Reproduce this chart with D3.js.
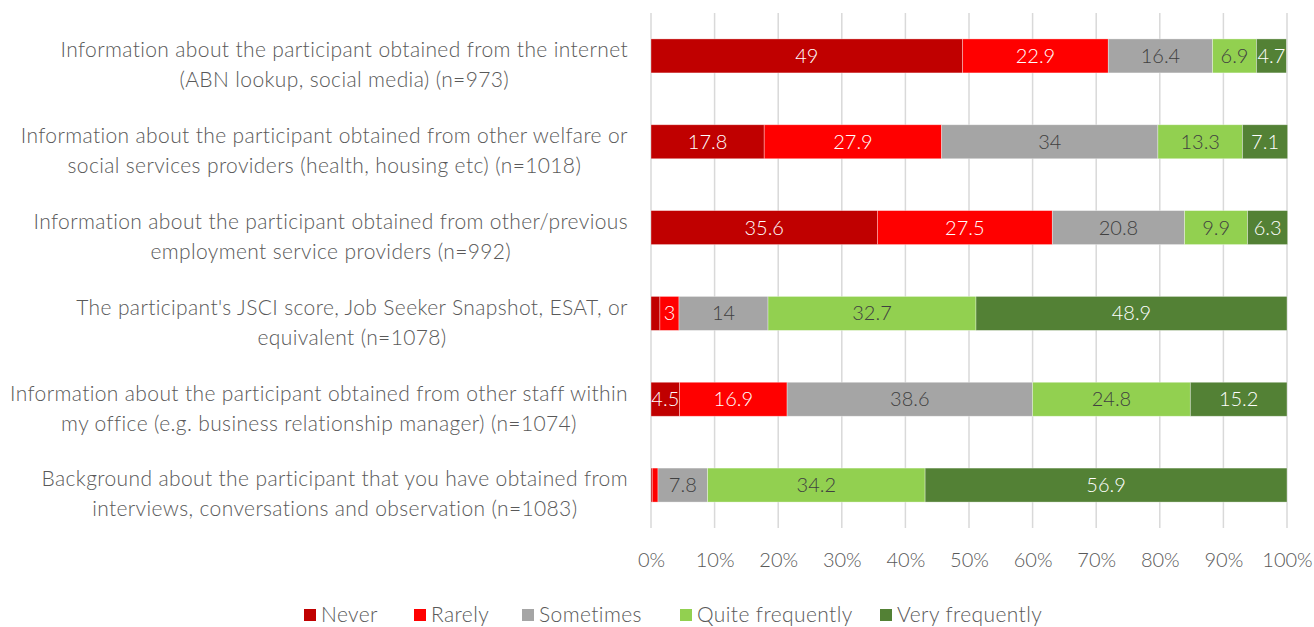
<!DOCTYPE html>
<html>
<head>
<meta charset="utf-8">
<script src="https://cdn.jsdelivr.net/npm/d3@7"></script>
<style>
  html, body { margin: 0; padding: 0; background: #fff; }
  svg { display: block; font-family: Lato, "Open Sans", sans-serif; font-weight: 300; }
</style>
</head>
<body>
<svg id="chart" width="1314" height="627"></svg>
<script>
// Survey items, top to bottom; each entry holds the wrapped lines of the label
const categories = [
  ["Information about the participant obtained from the internet", "(ABN lookup, social media) (n=973)"],
  ["Information about the participant obtained from other welfare or", "social services providers (health, housing etc) (n=1018)"],
  ["Information about the participant obtained from other/previous", "employment service providers (n=992)"],
  ["The participant's JSCI score, Job Seeker Snapshot, ESAT, or", "equivalent (n=1078)"],
  ["Information about the participant obtained from other staff within", "my office (e.g. business relationship manager) (n=1074)"],
  ["Background about the participant that you have obtained from", "interviews, conversations and observation (n=1083)"]
];

const seriesNames = ["Never", "Rarely", "Sometimes", "Quite frequently", "Very frequently"];

// Percentages per response option, in category order
const never      = [49,   17.8, 35.6, 1.4,  4.5,  0.2];
const rarely     = [22.9, 27.9, 27.5, 3,    16.9, 0.9];
const sometimes  = [16.4, 34,   20.8, 14,   38.6, 7.8];
const quiteFreq  = [6.9,  13.3, 9.9,  32.7, 24.8, 34.2];
const veryFreq   = [4.7,  7.1,  6.3,  48.9, 15.2, 56.9];

const tickValues = [0, 10, 20, 30, 40, 50, 60, 70, 80, 90, 100];

const colors = ["#C00000", "#FF0000", "#A5A5A5", "#92D050", "#538135"];
const labelColors = ["#ffffff", "#ffffff", "#404040", "#404040", "#ffffff"];
const textColor = "#595959";

const seriesValues = [never, rarely, sometimes, quiteFreq, veryFreq];
const rows = categories.map((c, i) => {
  const r = { id: i };
  seriesNames.forEach((s, k) => { r[s] = seriesValues[k][i]; });
  return r;
});

const svg = d3.select("#chart");
const fontSize = 20;

const x = d3.scaleLinear().domain([0, 100]).range([651, 1287]);
const y = d3.scaleBand()
  .domain(rows.map(r => r.id))
  .range([13, 528])
  .paddingInner(0.604)
  .paddingOuter(0.302);

// Vertical gridlines
svg.append("g")
  .selectAll("line")
  .data(tickValues)
  .join("line")
  .attr("x1", d => x(d)).attr("x2", d => x(d))
  .attr("y1", 13).attr("y2", 528)
  .attr("stroke", "#d9d9d9")
  .attr("stroke-width", 1.5);

// Percentage axis
const xAxis = d3.axisBottom(x)
  .tickValues(tickValues)
  .tickFormat(d => d + "%")
  .tickSize(0)
  .tickPadding(0);
const axisG = svg.append("g")
  .attr("transform", "translate(0,567)")
  .call(xAxis);
axisG.select(".domain").remove();
axisG.selectAll("text")
  .attr("dy", 0)
  .attr("fill", textColor)
  .style("font-family", "Lato, sans-serif")
  .style("font-weight", 300)
  .style("font-size", fontSize + "px");

// Stacked bars
const stack = d3.stack().keys(seriesNames);
const stacked = stack(rows);

const layers = svg.append("g")
  .selectAll("g")
  .data(stacked)
  .join("g")
  .attr("fill", (d, i) => colors[i]);

layers.selectAll("rect")
  .data(d => d)
  .join("rect")
  .attr("x", d => x(d[0]))
  .attr("y", d => y(d.data.id))
  .attr("width", d => x(d[1]) - x(d[0]))
  .attr("height", y.bandwidth())
  .attr("stroke", "rgba(255,255,255,0.45)")
  .attr("stroke-width", 0.75);

// Value labels inside segments (very thin segments stay unlabelled)
const valueLabels = svg.append("g")
  .style("font-size", fontSize + "px")
  .attr("text-anchor", "middle");
stacked.forEach((layer, k) => {
  valueLabels.selectAll(null)
    .data(layer.filter(d => (d[1] - d[0]) >= 2.5))
    .join("text")
    .attr("x", d => (x(d[0]) + x(d[1])) / 2)
    .attr("y", d => y(d.data.id) + y.bandwidth() / 2)
    .attr("dy", "0.35em")
    .attr("fill", labelColors[k])
    .text(d => seriesValues[k][d.data.id]);
});

// Category labels: block right-aligned, lines centred within the block
const labelRight = 628;
const lineGap = 30;
const catG = svg.append("g")
  .style("font-size", "21px")
  .style("letter-spacing", "0.37px")
  .attr("fill", textColor);
categories.forEach((lines, i) => {
  const g = catG.append("g");
  const cy = y(i) + y.bandwidth() / 2 + 9;
  const texts = lines.map((ln, j) => g.append("text")
    .attr("y", cy + (j - (lines.length - 1) / 2) * lineGap)
    .attr("dy", "0.35em")
    .attr("text-anchor", "middle")
    .text(ln));
  const maxW = d3.max(texts, t => t.node().getBBox().width);
  texts.forEach(t => t.attr("x", labelRight - maxW / 2));
});

// Legend
const legendX = [304, 414, 522, 680, 880];
const legend = svg.append("g")
  .style("font-size", "21px")
  .style("letter-spacing", "0.4px");
seriesNames.forEach((s, i) => {
  const g = legend.append("g").attr("transform", `translate(${legendX[i]},615)`);
  g.append("rect").attr("x", 0).attr("y", -6).attr("width", 12).attr("height", 12).attr("fill", colors[i]);
  g.append("text").attr("x", 17).attr("dy", "0.35em").attr("fill", textColor).text(s);
});
</script>
</body>
</html>
